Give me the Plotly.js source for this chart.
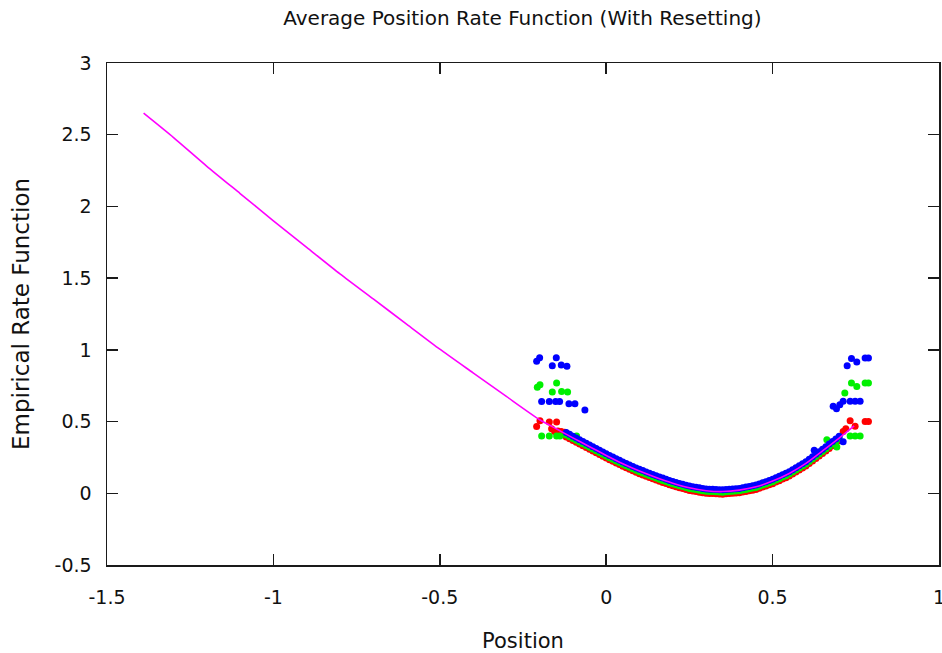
<!DOCTYPE html>
<html>
<head>
<meta charset="utf-8">
<script src="https://cdn.plot.ly/plotly-3.0.1.min.js"></script>
<style>html,body{margin:0;padding:0;background:#fff;}#chart{width:942px;height:653px;}</style>
</head>
<body>
<div id="chart"></div>
<script>
// Theoretical rate function (magenta line)
const theoryX = [-1.39,-1.3,-1.2,-1.1,-1.0,-0.9,-0.8,-0.7,-0.6,-0.5,-0.4,-0.3,-0.2,-0.15,-0.1,-0.05,0,0.05,0.1,0.15,0.2,0.25,0.3,0.35,0.4,0.45,0.5,0.55,0.6,0.65,0.7,0.745];
const theoryY = [2.65,2.48,2.28,2.09,1.90,1.715,1.53,1.355,1.18,1.005,0.84,0.675,0.513,0.450,0.386,0.325,0.264,0.206,0.155,0.110,0.070,0.038,0.018,0.012,0.022,0.045,0.085,0.138,0.208,0.295,0.385,0.47];

// Shared positions of the dense empirical band
const bandX = [-0.12,-0.11,-0.10,-0.09,-0.08,-0.07,-0.06,-0.05,-0.04,-0.03,
  -0.02,-0.01,0.00,0.01,0.02,0.03,0.04,0.05,0.06,0.07,
  0.08,0.09,0.10,0.11,0.12,0.13,0.14,0.15,0.16,0.17,
  0.18,0.19,0.20,0.21,0.22,0.23,0.24,0.25,0.26,0.27,
  0.28,0.29,0.30,0.31,0.32,0.33,0.34,0.35,0.36,0.37,
  0.38,0.39,0.40,0.41,0.42,0.43,0.44,0.45,0.46,0.47,
  0.48,0.49,0.50,0.51,0.52,0.53,0.54,0.55,0.56,0.57,
  0.58,0.59,0.60,0.61,0.62,0.63,0.64,0.65,0.66,0.67,
  0.68,0.69,0.70];

const blueBandY = [0.423,0.411,0.398,0.386,0.374,0.361,0.349,0.337,0.325,0.313,
  0.300,0.288,0.276,0.264,0.253,0.241,0.230,0.218,0.208,0.198,
  0.187,0.177,0.167,0.158,0.149,0.140,0.131,0.122,0.114,0.106,
  0.098,0.090,0.082,0.076,0.069,0.063,0.056,0.050,0.046,0.042,
  0.038,0.034,0.030,0.029,0.028,0.026,0.025,0.024,0.026,0.028,
  0.030,0.032,0.034,0.039,0.043,0.048,0.052,0.057,0.065,0.073,
  0.081,0.089,0.097,0.108,0.118,0.129,0.139,0.150,0.164,0.178,
  0.192,0.206,0.220,0.237,0.255,0.272,0.290,0.307,0.325,0.343,
  0.361,0.379,0.397];

const greenBandY = [0.407,0.395,0.382,0.370,0.358,0.345,0.333,0.321,0.309,0.297,
  0.284,0.272,0.260,0.248,0.237,0.225,0.214,0.202,0.192,0.182,
  0.171,0.161,0.151,0.142,0.133,0.124,0.115,0.106,0.098,0.090,
  0.082,0.074,0.066,0.060,0.053,0.047,0.040,0.034,0.030,0.026,
  0.022,0.018,0.014,0.013,0.012,0.010,0.009,0.008,0.010,0.012,
  0.014,0.016,0.018,0.023,0.027,0.032,0.036,0.041,0.049,0.057,
  0.065,0.073,0.081,0.092,0.102,0.113,0.123,0.134,0.148,0.162,
  0.176,0.190,0.204,0.221,0.239,0.256,0.274,0.291,0.309,0.327,
  0.345,0.363,0.381];

const redBandY = [0.393,0.381,0.368,0.356,0.344,0.331,0.319,0.307,0.295,0.283,
  0.270,0.258,0.246,0.234,0.223,0.211,0.200,0.188,0.178,0.168,
  0.157,0.147,0.137,0.128,0.119,0.110,0.101,0.092,0.084,0.076,
  0.068,0.060,0.052,0.046,0.039,0.033,0.026,0.020,0.016,0.012,
  0.008,0.004,0.000,-0.001,-0.002,-0.004,-0.005,-0.006,-0.004,-0.002,
  0.000,0.002,0.004,0.009,0.013,0.018,0.022,0.027,0.035,0.043,
  0.051,0.059,0.067,0.078,0.088,0.099,0.109,0.120,0.134,0.148,
  0.162,0.176,0.190,0.207,0.225,0.242,0.260,0.277,0.295,0.313,
  0.331,0.349,0.367];

// Scattered empirical points near the edges of the range
const blueEdgeX = [-0.209,-0.200,-0.150,-0.162,-0.135,-0.118,-0.194,-0.171,-0.152,-0.140,-0.112,-0.094,-0.064,
  0.724,0.737,0.753,0.778,0.788,0.682,0.692,0.702,0.712,0.733,0.748,0.763,0.712,0.625];
const blueEdgeY = [0.92,0.945,0.945,0.89,0.895,0.885,0.64,0.64,0.64,0.64,0.625,0.625,0.58,
  0.89,0.94,0.915,0.943,0.943,0.606,0.59,0.618,0.641,0.641,0.641,0.641,0.36,0.30];

const greenEdgeX = [-0.207,-0.199,-0.149,-0.162,-0.134,-0.116,-0.194,-0.171,-0.149,-0.139,-0.089,
  0.717,0.737,0.753,0.778,0.788,0.733,0.748,0.763,0.663,0.693];
const greenEdgeY = [0.74,0.757,0.769,0.706,0.71,0.706,0.40,0.40,0.40,0.40,0.40,
  0.70,0.769,0.745,0.769,0.769,0.40,0.40,0.40,0.374,0.323];

const redEdgeX = [-0.209,-0.199,-0.171,-0.149,-0.164,-0.155,-0.145,-0.135,-0.125,
  0.733,0.748,0.778,0.788,0.712,0.72];
const redEdgeY = [0.465,0.505,0.497,0.497,0.45,0.43,0.435,0.43,0.425,
  0.506,0.467,0.50,0.50,0.43,0.45];

const xTickVals = [-1.5,-1,-0.5,0,0.5,1];
const xTickText = ['-1.5','-1','-0.5','0','0.5','1'];
const yTickVals = [-0.5,0,0.5,1,1.5,2,2.5,3];
const yTickText = ['-0.5','0','0.5','1','1.5','2','2.5','3'];

const RED = '#ff0000', GREEN = '#00f000', BLUE = '#0000ff', MAGENTA = '#ff00ff';
const dot = c => ({color: c, size: 7});

const traces = [
  {x: bandX, y: redBandY, type: 'scatter', mode: 'markers', marker: dot(RED), name: 'red'},
  {x: redEdgeX, y: redEdgeY, type: 'scatter', mode: 'markers', marker: dot(RED), name: 'red edge'},
  {x: bandX, y: greenBandY, type: 'scatter', mode: 'markers', marker: dot(GREEN), name: 'green'},
  {x: greenEdgeX, y: greenEdgeY, type: 'scatter', mode: 'markers', marker: dot(GREEN), name: 'green edge'},
  {x: bandX, y: blueBandY, type: 'scatter', mode: 'markers', marker: dot(BLUE), name: 'blue'},
  {x: blueEdgeX, y: blueEdgeY, type: 'scatter', mode: 'markers', marker: dot(BLUE), name: 'blue edge'},
  {x: theoryX, y: theoryY, type: 'scatter', mode: 'lines', line: {color: MAGENTA, width: 1.6, shape: 'spline', smoothing: 0.6}, name: 'theory'}
];

const FONT = 'DejaVu Sans, sans-serif';
const axisCommon = {
  showline: true, linecolor: '#1a1a1a', linewidth: 1.5, mirror: 'ticks',
  ticks: 'inside', ticklen: 11, tickwidth: 1.5, tickcolor: '#1a1a1a',
  showgrid: false, zeroline: false, ticklabeloverflow: 'allow',
  tickfont: {family: FONT, size: 19, color: '#111'}
};

const layout = {
  width: 942, height: 653,
  margin: {l: 107, r: 3, t: 63, b: 88},
  paper_bgcolor: '#fff', plot_bgcolor: '#fff',
  showlegend: false,
  title: {text: 'Average Position Rate Function (With Resetting)', font: {family: FONT, size: 20, color: '#111'},
          x: 0.5546, xref: 'container', xanchor: 'center', y: 0.972, yref: 'container', yanchor: 'middle'},
  xaxis: Object.assign({}, axisCommon, {
    range: [-1.5, 1], tickmode: 'array', tickvals: xTickVals, ticktext: xTickText,
    ticklabelstandoff: 15,
    title: {text: 'Position', font: {family: FONT, size: 21, color: '#111'}, standoff: 27}
  }),
  yaxis: Object.assign({}, axisCommon, {
    range: [-0.5, 3], tickmode: 'array', tickvals: yTickVals, ticktext: yTickText,
    ticklabelstandoff: 10,
    title: {text: 'Empirical Rate Function', font: {family: FONT, size: 23, color: '#111'}, standoff: 18}
  })
};

Plotly.newPlot('chart', traces, layout, {displayModeBar: false, staticPlot: true});
</script>
</body>
</html>
